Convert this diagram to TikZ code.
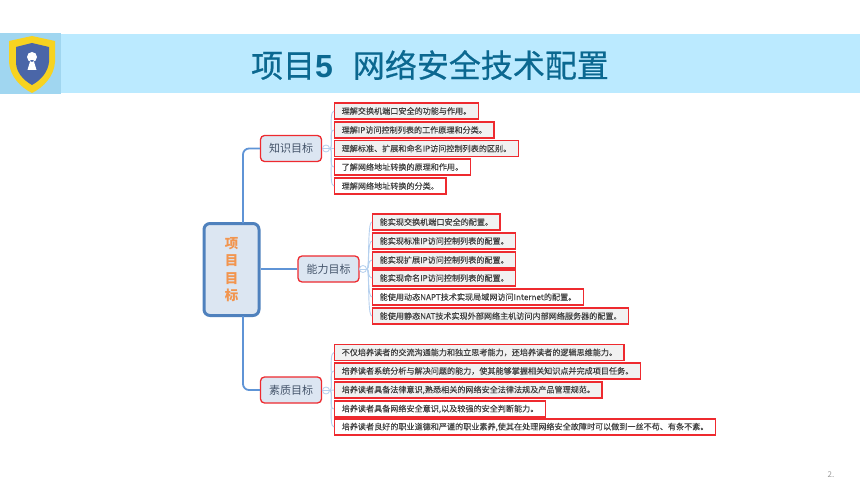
\documentclass[tikz,border=0pt]{standalone}
\usepackage{fontspec}
\setmainfont{Noto Sans CJK SC}
\newfontfamily\latinbold{Liberation Sans}
\newfontfamily\titlefont[FakeBold=0.5]{Noto Sans CJK SC}
\newfontfamily\leaffont[FakeBold=0.05]{Noto Sans CJK SC}
\usetikzlibrary{calc}
\definecolor{bandblue}{HTML}{BBEAFF}
\definecolor{iconblue}{HTML}{A0D6F0}
\definecolor{titleblue}{HTML}{0B6890}
\definecolor{shieldgold}{HTML}{F7D320}
\definecolor{shieldblue}{HTML}{4A66A8}
\definecolor{trunkblue}{HTML}{5F94D6}
\definecolor{twigblue}{HTML}{B5D0EE}
\definecolor{rootblue}{HTML}{4F81BD}
\definecolor{rootorange}{HTML}{F2954F}
\definecolor{paleblue}{HTML}{DCE6F2}
\definecolor{boxred}{HTML}{EE2A2F}
\definecolor{leafgrey}{HTML}{F1F1F1}
\definecolor{inkgrey}{HTML}{44546A}
\tikzset{
  rootbox/.style={draw=rootblue, fill=paleblue, line width=3pt, rounded corners=6pt, minimum width=55pt, minimum height=92pt, inner sep=0pt, text=rootorange, font=\fontsize{13.5}{17.4}\selectfont\bfseries, align=center},
  branchbox/.style={draw=boxred, fill=paleblue, line width=1.3pt, rounded corners=4pt, minimum width=61pt, minimum height=26pt, inner sep=0pt, text=inkgrey, font=\fontsize{11}{13}\selectfont},
  leafbox/.style={draw=boxred, line width=1.4pt, anchor=west, minimum height=16pt, inner ysep=0pt, inner xsep=7pt, text=black!75, font=\fontsize{8.1}{10}\leaffont},
  greybox/.style={leafbox, fill=leafgrey},
  knob/.style={circle, draw=twigblue, fill=white, line width=.8pt, minimum size=7pt, inner sep=0pt},
  trunk/.style={draw=trunkblue, line width=1.8pt, rounded corners=6pt},
  twig/.style={draw=twigblue, line width=.9pt}
}
\begin{document}
\begin{tikzpicture}[x=1pt,y=-1pt]
    \useasboundingbox (0,0) rectangle (860,484);

    % title band
    \fill [bandblue] (61,34) rectangle (860,93);
    \fill [iconblue] (0,33) rectangle (61,94);
    \fill [shieldgold] (32,36) -- (55,41) -- (55,62) .. controls (54,76) and (44,87) .. (32,93) .. controls (20,87) and (10,76) .. (9,62) -- (9,41) -- cycle;
    \fill [shieldblue] (32,43) -- (49,47) -- (49,62) .. controls (48,72) and (41,80) .. (32,85) .. controls (23,80) and (16,72) .. (16,62) -- (16,47) -- cycle;
    \fill [white] (32,57) circle (5) (30.5,60) -- (27.5,70) -- (36.5,70) -- (33.5,60) -- cycle;
    \node (ntitle) [text=titleblue, font=\fontsize{32}{36}\titlefont, inner sep=0pt] at (430,65) {项目{\latinbold\bfseries 5}\hspace{20pt}网络安全技术配置};
    \node (npage) [text=black!40, font=\fontsize{8}{10}\selectfont\itshape, inner sep=0pt] at (831,475) {2.};

    % root and branches
    \node (nroot) [rootbox] at (231.5,269.5) {项\\目\\目\\标};
    \node (nknow) [branchbox] at (291,148.5) {知识目标};
    \node (nskill) [branchbox] at (328.5,269) {能力目标};
    \node (nmoral) [branchbox] at (291,390) {素质目标};
    \coordinate (ctop) at (243,223);
    \coordinate (cbot) at (243,316);
    \draw [trunk] (ctop) |- (nknow.west);
    \draw [trunk] (cbot) |- (nmoral.west);
    \draw [trunk] (nroot.east |- nskill.west) -- (nskill.west);
    \node (kknob) [knob] at (326,148.5) {};
    \node (sknob) [knob] at (363,269) {};
    \node (mknob) [knob] at (326,390.5) {};

    % knowledge
    \node (k1) [greybox] at (334,111) {理解交换机端口安全的功能与作用。};
    \node (k2) [greybox] at (334,130) {理解IP访问控制列表的工作原理和分类。};
    \node (k3) [greybox] at (334,148.5) {理解标准、扩展和命名IP访问控制列表的区别。};
    \node (k4) [leafbox] at (334,167) {了解网络地址转换的原理和作用。};
    \node (k5) [leafbox] at (334,186) {理解网络地址转换的分类。};

    % skill
    \node (s1) [greybox] at (372,222) {能实现交换机端口安全的配置。};
    \node (s2) [greybox] at (372,241) {能实现标准IP访问控制列表的配置。};
    \node (s3) [greybox] at (372,260) {能实现扩展IP访问控制列表的配置。};
    \node (s4) [greybox] at (372,278) {能实现命名IP访问控制列表的配置。};
    \node (s5) [leafbox] at (372,297) {能使用动态NAPT技术实现局域网访问Internet的配置。};
    \node (s6) [greybox] at (372,316) {能使用静态NAT技术实现外部网络主机访问内部网络服务器的配置。};

    % moral
    \node (m1) [greybox] at (334,352.5) {不仅培养读者的交流沟通能力和独立思考能力，还培养读者的逻辑思维能力。};
    \node (m2) [greybox] at (334,371) {培养读者系统分析与解决问题的能力，使其能够掌握相关知识点并完成项目任务。};
    \node (m3) [greybox] at (334,390) {培养读者具备法律意识,熟悉相关的网络安全法律法规及产品管理规范。};
    \node (m4) [leafbox] at (334,409) {培养读者具备网络安全意识,以及较强的安全判断能力。};
    \node (m5) [leafbox] at (334,427) {培养读者良好的职业道德和严谨的职业素养,使其在处理网络安全故障时可以做到一丝不苟、有条不紊。};

    % twigs
    \draw [twig] (nknow.east) -- (kknob.west);
    \draw [twig] (nskill.east) -- (sknob.west);
    \draw [twig] (nmoral.east) -- (mknob.west);
    \draw [twig] (sknob.west) -- (sknob.east);
    \draw [twig] (kknob.west) -- (kknob.east);
    \draw [twig] (mknob.west) -- (mknob.east);
    \draw [twig] (kknob.east) .. controls +(4,0) and ($(k1.west)+(-6,0)$) .. (k1.west);
    \draw [twig] (kknob.east) .. controls +(4,0) and ($(k2.west)+(-6,0)$) .. (k2.west);
    \draw [twig] (kknob.east) -- (k3.west);
    \draw [twig] (kknob.east) .. controls +(4,0) and ($(k4.west)+(-6,0)$) .. (k4.west);
    \draw [twig] (kknob.east) .. controls +(4,0) and ($(k5.west)+(-6,0)$) .. (k5.west);
    \draw [twig] (sknob.east) .. controls +(3,0) and ($(s1.west)+(-5,0)$) .. (s1.west);
    \draw [twig] (sknob.east) .. controls +(3,0) and ($(s2.west)+(-5,0)$) .. (s2.west);
    \draw [twig] (sknob.east) .. controls +(3,0) and ($(s3.west)+(-5,0)$) .. (s3.west);
    \draw [twig] (sknob.east) .. controls +(3,0) and ($(s4.west)+(-5,0)$) .. (s4.west);
    \draw [twig] (sknob.east) .. controls +(3,0) and ($(s5.west)+(-5,0)$) .. (s5.west);
    \draw [twig] (sknob.east) .. controls +(3,0) and ($(s6.west)+(-5,0)$) .. (s6.west);
    \draw [twig] (mknob.east) .. controls +(4,0) and ($(m1.west)+(-6,0)$) .. (m1.west);
    \draw [twig] (mknob.east) .. controls +(4,0) and ($(m2.west)+(-6,0)$) .. (m2.west);
    \draw [twig] (mknob.east) -- (m3.west);
    \draw [twig] (mknob.east) .. controls +(4,0) and ($(m4.west)+(-6,0)$) .. (m4.west);
    \draw [twig] (mknob.east) .. controls +(4,0) and ($(m5.west)+(-6,0)$) .. (m5.west);
\end{tikzpicture}
\end{document}
